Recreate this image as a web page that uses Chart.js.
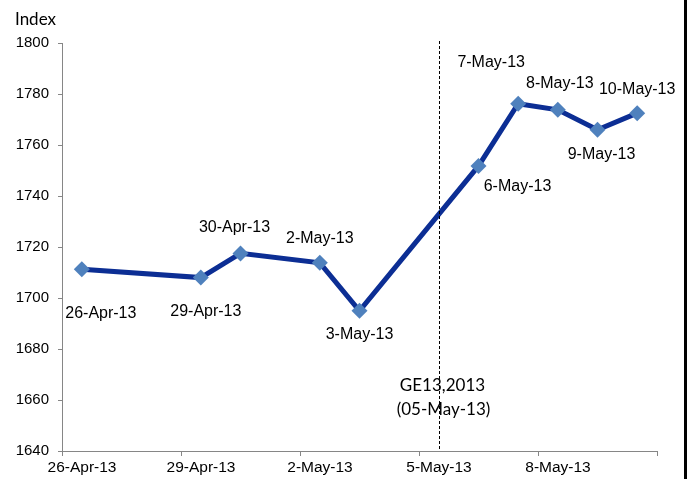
<!DOCTYPE html>
<html>
<head>
<meta charset="utf-8">
<script src="https://cdn.jsdelivr.net/npm/chart.js@4/dist/chart.umd.min.js"></script>
<style>
  body { margin: 0; background: #fff; }
  #wrap { position: relative; width: 690px; height: 479px; }
  #edge { position: absolute; left: 684px; top: 0; width: 3px; height: 479px; background: #000; }
</style>
</head>
<body>
<div id="wrap">
  <canvas id="chart" width="690" height="479"></canvas>
  <div id="edge"></div>
</div>
<script>
// ---------- Data ----------
const dates = ['2013-04-26', '2013-04-29', '2013-04-30', '2013-05-02', '2013-05-03',
               '2013-05-06', '2013-05-07', '2013-05-08', '2013-05-09', '2013-05-10'];
const pointLabels = ['26-Apr-13', '29-Apr-13', '30-Apr-13', '2-May-13', '3-May-13',
                     '6-May-13', '7-May-13', '8-May-13', '9-May-13', '10-May-13'];
const indexValues = [1711.3, 1708, 1717.5, 1713.8, 1695, 1751.8, 1776.2, 1773.8, 1766, 1772.5];

const axisStart = '2013-04-26';
const axisDays = 15;          // 26-Apr .. 11-May
const yTicks = { min: 1640, max: 1800, step: 20 };

const eventDate = '2013-05-05';
const eventLines = ['GE13,2013', '(05-May-13)'];

// label placement relative to each point (px)
const labelShift = [[19, 44], [5, 34], [-6, -26], [0, -24], [0, 24],
                    [39, 21], [-27, -41], [2, -26], [4, 25], [0, -24]];

// ---------- Helpers ----------
const MONTHS = ['Jan','Feb','Mar','Apr','May','Jun','Jul','Aug','Sep','Oct','Nov','Dec'];
const DAY = 86400000;
function toUTC(s) { const [y, m, d] = s.split('-').map(Number); return Date.UTC(y, m - 1, d); }
function dayIndex(s) { return Math.round((toUTC(s) - toUTC(axisStart)) / DAY); }
function fmtDay(n) {
  const d = new Date(toUTC(axisStart) + n * DAY);
  return `${d.getUTCDate()}-${MONTHS[d.getUTCMonth()]}-${String(d.getUTCFullYear()).slice(2)}`;
}

const points = dates.map((d, i) => ({ x: dayIndex(d) + 0.5, y: indexValues[i] }));

const ARIAL = '"Liberation Sans", Arial, sans-serif';
const CALIBRI = 'Lato, "Open Sans", sans-serif';
const AXIS_GRAY = '#868686';

// ---------- Annotation plugin ----------
const annotate = {
  id: 'annotate',
  afterDatasetsDraw(chart) {
    const { ctx, scales: { x, y } } = chart;
    ctx.save();

    // event marker
    const ex = Math.round(x.getPixelForValue(dayIndex(eventDate) + 0.5)) + 0.5;
    ctx.strokeStyle = '#000';
    ctx.lineWidth = 1;
    ctx.setLineDash([3, 2]);
    ctx.beginPath();
    ctx.moveTo(ex, 41);
    ctx.lineTo(ex, y.bottom);
    ctx.stroke();
    ctx.setLineDash([]);

    ctx.fillStyle = '#000';
    ctx.textAlign = 'center';
    ctx.textBaseline = 'middle';
    ctx.font = `17px ${CALIBRI}`;
    ctx.fillText(eventLines[0], ex + 3, 386);
    ctx.fillText(eventLines[1], ex + 4, 410);

    // axis title
    ctx.textAlign = 'left';
    ctx.fillText('Index', 15, 20);

    // point labels
    ctx.font = `16px ${ARIAL}`;
    ctx.textAlign = 'center';
    const meta = chart.getDatasetMeta(0);
    meta.data.forEach((pt, i) => {
      const [dx, dy] = labelShift[i];
      ctx.fillText(pointLabels[i], pt.x + dx, pt.y + dy);
    });
    ctx.restore();
  },
};

// ---------- Chart ----------
new Chart(document.getElementById('chart'), {
  type: 'line',
  data: {
    datasets: [{
      label: 'Index',
      data: points,
      borderColor: '#0c2e94',
      borderWidth: 5,
      tension: 0,
      pointStyle: 'rectRot',
      pointRadius: 8,
      pointBorderWidth: 0,
      pointBackgroundColor: '#4f81bd',
      pointBorderColor: '#4f81bd',
    }],
  },
  options: {
    responsive: false,
    animation: false,
    layout: { padding: { top: 43, right: 33, bottom: 0, left: 0 } },
    plugins: { legend: { display: false }, tooltip: { enabled: false } },
    scales: {
      x: {
        type: 'linear',
        min: 0,
        max: axisDays,
        afterFit: (s) => { s.height = 28; },
        border: { color: AXIS_GRAY, width: 1 },
        grid: { drawOnChartArea: false, drawTicks: true, tickLength: 5, color: AXIS_GRAY },
        ticks: {
          stepSize: 3,
          autoSkip: false,
          maxRotation: 0,
          padding: 2,
          labelOffset: 20,
          color: '#000',
          font: { family: ARIAL, size: 15.5 },
          callback: (v) => (v >= axisDays ? '' : fmtDay(v)),
        },
      },
      y: {
        min: yTicks.min,
        max: yTicks.max,
        afterFit: (s) => { s.width = 62; },
        border: { color: AXIS_GRAY, width: 1 },
        grid: { drawOnChartArea: false, drawTicks: true, tickLength: 4, color: AXIS_GRAY },
        ticks: {
          stepSize: yTicks.step,
          padding: 9,
          color: '#000',
          font: { family: ARIAL, size: 15 },
          callback: (v) => String(v),
        },
      },
    },
  },
  plugins: [annotate],
});
</script>
</body>
</html>
